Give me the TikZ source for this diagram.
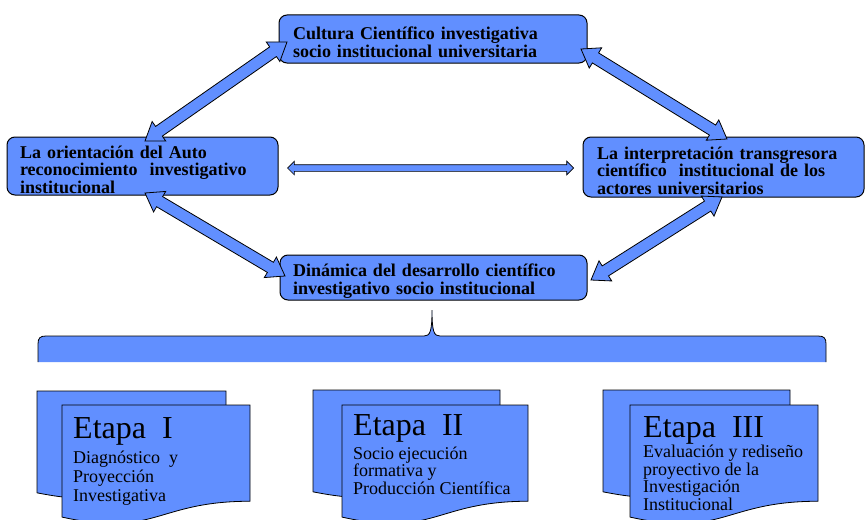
\documentclass[tikz,border=0pt]{standalone}
\usepackage{fontspec}
\setmainfont{Liberation Serif}
\usetikzlibrary{shapes.arrows,calc}
\definecolor{azul}{RGB}{97,143,255}
\tikzstyle{caja}=[draw=black, fill=azul, line width=1pt, rounded corners=8pt, inner sep=0pt, align=left, text height=19.5pt, font=\bfseries\fontsize{18}{17.5}\selectfont]
\tikzstyle{flecha}=[double arrow, draw=black, fill=azul, line width=0.8pt, inner xsep=0pt, inner ysep=5.5pt, double arrow head extend=6pt, double arrow tip angle=70]
\tikzstyle{flechita}=[double arrow, draw=black, fill=azul, line width=0.7pt, inner xsep=0pt, inner ysep=3pt, double arrow head extend=3.5pt, double arrow tip angle=90]
\tikzstyle{hoja}=[draw=black, fill=azul, line width=0.8pt]
\tikzstyle{titulo}=[anchor=base west, inner sep=0pt, font=\fontsize{32}{32}\selectfont]
\tikzstyle{texto}=[anchor=base west, inner sep=0pt, align=left, font=\fontsize{18}{17.5}\selectfont]
\newcommand{\hoja}[4]{\draw[hoja] (#1,#2) -- ({#1+#3},#2) -- ({#1+#3},{#2+0.802*#4})
  .. controls +({-0.5*#3},0) and +({0.5*#3},{0.173*#4}) .. (#1,{#2+0.934*#4}) -- cycle;}

\begin{document}
\begin{tikzpicture}[x=1pt,y=-1pt]
 \useasboundingbox (0,0) rectangle (866,519);
 % cajas
 \node[caja, minimum width=308, minimum height=48, text width=280] (cultura) at (433,39)
   {Cultura Científico investigativa\\socio institucional universitaria};
 \node[caja, minimum width=271, minimum height=58, text width=245] (orient) at (142.5,166)
   {La orientación del Auto\\reconocimiento\ \ investigativo\\institucional};
 \node[caja, minimum width=281, minimum height=60, text width=253] (interp) at (723.5,167)
   {La interpretación transgresora\\científico\ \ institucional de los\\actores universitarios};
 \node[caja, minimum width=307, minimum height=45, text width=281] (dinamica) at (433.5,277.5)
   {Dinámica del desarrollo científico\\investigativo socio institucional};
 % flechas
 \coordinate (a1) at (145,141); \coordinate (a2) at (287,42);
 \coordinate (b1) at (581,49);  \coordinate (b2) at (727,139);
 \coordinate (c1) at (145,193); \coordinate (c2) at (285,276);
 \coordinate (d1) at (722,197); \coordinate (d2) at (591,280);
 \foreach \u/\v in {a1/a2, b1/b2, c1/c2, d1/d2}
   \path let \p1=($(\v)-(\u)$), \n1={veclen(\x1,\y1)} in
     (\u) -- (\v) node[flecha, midway, sloped, minimum height=\n1] {};
 \coordinate (m1) at ([xshift=9pt,yshift=-2pt]orient.east);
 \coordinate (m2) at ([xshift=-9pt,yshift=-1pt]interp.west);
 \path let \p1=($(m2)-(m1)$), \n1={veclen(\x1,\y1)} in
   (m1) -- (m2) node[flechita, midway, sloped, minimum height=\n1] {};
 % llave
 \draw[hoja] (38,362) -- (38,344) .. controls (38,338) and (40,336) .. (46,336) -- (424,336)
   .. controls (430,336) and (432,332) .. (432,310) .. controls (432,332) and (434,336) .. (440,336)
   -- (818,336) .. controls (824,336) and (826,338) .. (826,344) -- (826,362);
 % etapas
 \hoja{37}{391}{189}{109}
 \hoja{62}{405}{188}{120}
 \hoja{313}{390}{187}{109}
 \hoja{342}{405}{186}{120}
 \hoja{603}{390}{187}{109}
 \hoja{630}{405}{188}{120}
 \node[titulo] (etapaI) at (73,438) {Etapa\ \ I};
 \node[texto, font=\fontsize{18}{19}\selectfont] (descI) at (73,501) {Diagnóstico\ \ y\\Proyección\\Investigativa};
 \node[titulo] (etapaII) at (353,435) {Etapa\ \ II};
 \node[texto] (descII) at (353,494) {Socio ejecución\\formativa y\\Producción Científica};
 \node[titulo] (etapaIII) at (643,437) {Etapa\ \ III};
 \node[texto] (descIII) at (643,510) {Evaluación y rediseño\\proyectivo de la\\Investigación\\Institucional};
\end{tikzpicture}
\end{document}
